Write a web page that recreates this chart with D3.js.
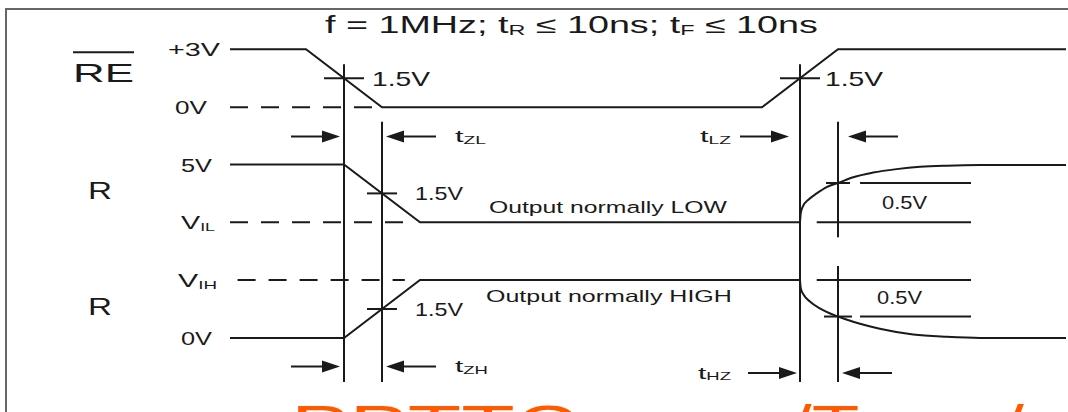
<!DOCTYPE html>
<html>
<head>
<meta charset="utf-8">
<script src="https://cdn.jsdelivr.net/npm/d3@7"></script>
<style>
  html, body { margin: 0; padding: 0; background: #fff; }
  svg { display: block; font-family: "Liberation Sans", Arial, sans-serif; }
</style>
</head>
<body>
<svg id="chart" width="1068" height="412"></svg>
<script>
// time in ns from the left end of the waveforms
var reWave = [[0, 3], [10, 3], [20, 0], [70, 0], [80, 3], [110, 3]];          // volts
var lowWave = [[0, 1], [15, 1], [25, 0], [75, 0]];                            // 1 = 5V, 0 = VIL
var lowRelease = [[75, 0], [75.1, 0.16], [75.4, 0.28], [76.1, 0.39], [77.2, 0.5], [78.5, 0.61],
  [80, 0.68], [82, 0.78], [84.6, 0.86], [87.7, 0.92], [90.8, 0.96], [94.3, 0.98], [98.7, 0.99], [110, 0.99]];
var highWave = [[0, 0], [15, 0], [25, 1], [75, 1]];                           // 1 = VIH, 0 = 0V
var highRelease = [[75, 1], [75.1, 0.86], [75.5, 0.74], [76.3, 0.63], [77.6, 0.51], [80, 0.37],
  [82, 0.28], [85.5, 0.16], [89.9, 0.06], [94.3, 0.02], [98.7, 0], [110, 0]];

var markerTimes = [15, 20, 75, 80];
var reTicks = [[3, "+3V"], [0, "0V"]];
var lowTicks = [[1, "5V"], [0, "V", "IL"]];
var highTicks = [[1, "V", "IH"], [0, "0V"]];
var spanNames = ["ZL", "LZ", "ZH", "HZ"];
var spanTimes = [[15, 20], [75, 80], [15, 20], [75, 80]];
var releaseMarks = [0.68, 0.37];   // 0.5V away from the driven level

var svg = d3.select("#chart");
var ink = "#1a1a1a";

var x = d3.scaleLinear().domain([0, 110]).range([230, 1066]);
var yRE = d3.scaleLinear().domain([0, 3]).range([107.3, 49.3]);
var yLow = d3.scaleLinear().domain([0, 1]).range([222.3, 164.5]);
var yHigh = d3.scaleLinear().domain([0, 1]).range([338, 280]);

function stretchText(parts, px, py, size, width, color) {
  var g = svg.append("g");
  var t = g.append("text").attr("font-size", size).attr("fill", color || ink);
  var shift = 0;
  parts.forEach(function(p) {
    var s = t.append("tspan").text(p[0]);
    var want = p[1] ? 1.5 : 0;
    s.attr("dy", want - shift);
    shift = want;
    if (p[1]) s.attr("font-size", size * 0.62);
  });
  var w = t.node().getComputedTextLength();
  g.attr("transform", "translate(" + px + "," + py + ") scale(" + (width / w) + ",1)");
  return g;
}

// watermark, cut by the bottom edge
stretchText([["PPTTC.com"]], 291, 443.5, 56, 477, "#ff5a00");
stretchText([["/Team/"]], 790, 443.5, 56, 234, "#ff5a00");

// frame
svg.append("path").attr("d", "M6,412V9H1068")
  .attr("fill", "none").attr("stroke", "#666").attr("stroke-width", 2);

stretchText([["f = 1MHz; t"], ["R", 1], [" \u2264 10ns; t"], ["F", 1], [" \u2264 10ns"]], 325, 33, 23, 493);

function wave(data, y, curve) {
  var line = d3.line().x(function(d) { return x(d[0]); }).y(function(d) { return y(d[1]); })
    .curve(curve || d3.curveLinear);
  svg.append("path").datum(data).attr("d", line)
    .attr("fill", "none").attr("stroke", ink).attr("stroke-width", 2);
}

function hline(t0, t1, yy, dashed) {
  var l = svg.append("line").attr("x1", x(t0)).attr("x2", x(t1)).attr("y1", yy).attr("y2", yy)
    .attr("stroke", ink).attr("stroke-width", 2);
  if (dashed) l.attr("stroke-dasharray", "18,13");
}

function vline(t, y1, y2) {
  svg.append("line").attr("x1", x(t)).attr("x2", x(t)).attr("y1", y1).attr("y2", y2)
    .attr("stroke", ink).attr("stroke-width", 2);
}

function tick(t, yy, half) {
  svg.append("line").attr("x1", x(t) - half).attr("x2", x(t) + half).attr("y1", yy).attr("y2", yy)
    .attr("stroke", ink).attr("stroke-width", 2);
}

// dashed reference levels
hline(0, 20, yRE(0), true);
hline(0, 23, yLow(0), true);
hline(1, 23, yHigh(1), true);

// waveforms
wave(reWave, yRE);
wave(lowWave, yLow);
wave(highWave, yHigh);
wave(lowRelease, yLow, d3.curveMonotoneX);
wave(highRelease, yHigh, d3.curveMonotoneX);

// timing markers
var bottom = yHigh(0) + 44;
vline(markerTimes[0], yRE(1.5) - 14, bottom);
vline(markerTimes[1], yRE(0) + 14.5, bottom);
vline(markerTimes[2], yRE(1.5) - 14, bottom);
vline(markerTimes[3], yRE(0) + 14.5, yLow(0) + 15);
vline(markerTimes[3], yHigh(1) - 14, bottom);

// 1.5V crossings
tick(15, yRE(1.5), 20);
tick(75, yRE(1.5), 20);
tick(20, yLow(0.5), 15);
tick(20, yHigh(0.5), 15);
stretchText([["1.5V"]], 372, yRE(1.5) + 7.5, 20, 58);
stretchText([["1.5V"]], 825, yRE(1.5) + 7.5, 20, 58);
stretchText([["1.5V"]], 415, yLow(0.5) + 6.5, 17.5, 48);
stretchText([["1.5V"]], 415, yHigh(0.5) + 6.5, 17.5, 48);

// 0.5V release references
hline(77.2, 97.5, yLow(0));
hline(82.9, 97.5, yLow(releaseMarks[0]));
tick(80, yLow(releaseMarks[0]), 12);
hline(77.2, 97.5, yHigh(1));
hline(82.9, 97.5, yHigh(releaseMarks[1]));
tick(80, yHigh(releaseMarks[1]), 14);
stretchText([["0.5V"]], 882, yLow(releaseMarks[0]) + 26, 18, 45);
stretchText([["0.5V"]], 877, yHigh(releaseMarks[1]) - 13, 18, 45);

stretchText([["Output normally LOW"]], 489, yLow(0) - 9.5, 16.5, 238);
stretchText([["Output normally HIGH"]], 486, yHigh(1) + 22, 16.5, 246);

// lane names and level labels
stretchText([["RE"]], 73, 82, 26, 61);
svg.append("line").attr("x1", 73).attr("x2", 134).attr("y1", 52.3).attr("y2", 52.3)
  .attr("stroke", ink).attr("stroke-width", 2);
stretchText([["R"]], 88, 199.3, 23, 24);
stretchText([["R"]], 88, 315, 23, 24);

var tickLayout = [[168, 52], [175, 32], [181, 31], [181, 34], [178, 39], [181, 31]];
var allTicks = reTicks.map(function(d) { return [yRE(d[0])].concat([d]); })
  .concat(lowTicks.map(function(d) { return [yLow(d[0])].concat([d]); }))
  .concat(highTicks.map(function(d) { return [yHigh(d[0])].concat([d]); }));
allTicks.forEach(function(d, i) {
  var parts = [[d[1][1]]];
  if (d[1][2]) parts.push([d[1][2], 1]);
  stretchText(parts, tickLayout[i][0], d[0] + 7, 19, tickLayout[i][1]);
});

// span arrows
function arrow(tipX, yy, dir, len) {
  var back = tipX - dir * 18;
  svg.append("line").attr("x1", tipX - dir * len).attr("x2", back).attr("y1", yy).attr("y2", yy)
    .attr("stroke", ink).attr("stroke-width", 2);
  svg.append("path").attr("d", "M" + tipX + "," + yy + "L" + back + "," + (yy - 6) + "L" + back + "," + (yy + 6) + "Z")
    .attr("fill", ink);
}
var spanRows = [136.5, 136.5, 366.5, 373];
var spanGaps = [4, 11, 4, 3];
var spanText = [[455, 31], [700, 31], [455, 33], [698, 33]];
spanNames.forEach(function(name, i) {
  var a = x(spanTimes[i][0]), b = x(spanTimes[i][1]), g = spanGaps[i];
  arrow(a - g, spanRows[i], 1, 49);
  arrow(b + (i === 1 ? 10 : 4), spanRows[i], -1, 50);
  stretchText([["t"], [name, 1]], spanText[i][0], spanRows[i] + 5.5, 17, spanText[i][1]);
});
</script>
</body>
</html>
